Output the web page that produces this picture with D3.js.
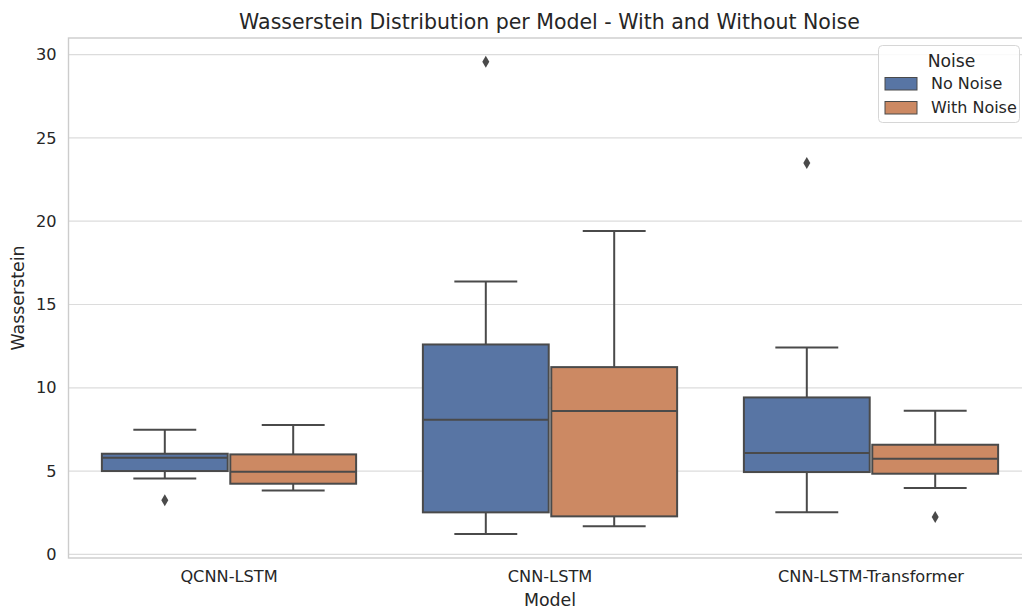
<!DOCTYPE html>
<html>
<head>
<meta charset="utf-8">
<script src="https://cdn.jsdelivr.net/npm/d3@7"></script>
<style>
  html, body { margin: 0; padding: 0; background: #fff; }
  svg text { font-family: 'DejaVu Sans', 'Verdana', sans-serif; }
</style>
</head>
<body>
<svg id="chart" width="1022" height="612"></svg>
<script>
// Models on the x axis and the two noise conditions
const models = ["QCNN-LSTM", "CNN-LSTM", "CNN-LSTM-Transformer"];
const noiseLevels = ["No Noise", "With Noise"];
const noiseColors = ["#5875A4", "#CC8963"];

// Box summaries per model (order follows `models`)
const noNoiseWhiskerLow  = [4.55, 1.22, 2.52];
const noNoiseQ1          = [5.00, 2.52, 4.94];
const noNoiseMedian      = [5.80, 8.08, 6.08];
const noNoiseQ3          = [6.04, 12.60, 9.42];
const noNoiseWhiskerHigh = [7.48, 16.38, 12.42];
const noNoiseOutliers    = [[3.24], [29.58], [23.50]];

const withNoiseWhiskerLow  = [3.84, 1.68, 3.98];
const withNoiseQ1          = [4.24, 2.28, 4.84];
const withNoiseMedian      = [4.96, 8.60, 5.74];
const withNoiseQ3          = [6.00, 11.24, 6.58];
const withNoiseWhiskerHigh = [7.76, 19.42, 8.62];
const withNoiseOutliers    = [[], [], [2.24]];

const yTicks = [0, 5, 10, 15, 20, 25, 30];
const yDomain = [-0.22, 31.0];

const series = [
  { lo: noNoiseWhiskerLow, q1: noNoiseQ1, med: noNoiseMedian, q3: noNoiseQ3, hi: noNoiseWhiskerHigh, out: noNoiseOutliers },
  { lo: withNoiseWhiskerLow, q1: withNoiseQ1, med: withNoiseMedian, q3: withNoiseQ3, hi: withNoiseWhiskerHigh, out: withNoiseOutliers }
];

const boxes = [];
series.forEach((s, si) => {
  models.forEach((m, mi) => {
    boxes.push({ model: m, noise: noiseLevels[si], color: noiseColors[si],
      lo: s.lo[mi], q1: s.q1[mi], med: s.med[mi], q3: s.q3[mi], hi: s.hi[mi], out: s.out[mi] });
  });
});

const FONT = "'DejaVu Sans', Verdana, sans-serif";
const svg = d3.select("#chart");
const plot = { left: 68.5, top: 38, bottom: 558, right: 1031.5 };
const lineGray = "#4a4a4a";
const gridGray = "#dcdcdc";
const textColor = "#262626";

const x = d3.scaleBand().domain(models).range([plot.left, plot.right]).paddingInner(0).paddingOuter(0);
const xHue = d3.scaleBand().domain(noiseLevels).range([0, x.bandwidth() * 0.8]);
const y = d3.scaleLinear().domain(yDomain).range([plot.bottom, plot.top]);

// grid lines
svg.append("g").selectAll("line").data(yTicks).join("line")
  .attr("x1", plot.left).attr("x2", plot.right)
  .attr("y1", d => y(d)).attr("y2", d => y(d))
  .attr("stroke", gridGray).attr("stroke-width", 1.2);

// frame
svg.append("rect").attr("x", plot.left).attr("y", plot.top)
  .attr("width", plot.right - plot.left).attr("height", plot.bottom - plot.top)
  .attr("fill", "none").attr("stroke", "#cccccc").attr("stroke-width", 1.4);

// y axis
const yAxis = svg.append("g").attr("transform", `translate(${plot.left},0)`)
  .call(d3.axisLeft(y).tickValues(yTicks).tickSize(0).tickPadding(12).tickFormat(d3.format("d")));
yAxis.attr("font-family", FONT);
yAxis.select(".domain").remove();
yAxis.selectAll("text").attr("fill", textColor).attr("font-family", FONT).style("font-size", "16.2px");

// x axis
const xAxis = svg.append("g").attr("transform", `translate(0,${plot.bottom})`)
  .call(d3.axisBottom(x).tickSize(0).tickPadding(12));
xAxis.attr("font-family", FONT);
xAxis.select(".domain").remove();
xAxis.selectAll("text").attr("fill", textColor).attr("font-family", FONT).style("font-size", "16.2px");

// boxes
const hueOffset = x.bandwidth() * 0.1;
const g = svg.append("g").selectAll("g").data(boxes).join("g")
  .attr("transform", d => `translate(${x(d.model) + hueOffset + xHue(d.noise)},0)`);

const bw = xHue.bandwidth();
const boxW = bw * 0.98;
const bx = (bw - boxW) / 2;
const cx = bw / 2;
const capW = boxW / 2;

g.append("line").attr("x1", cx).attr("x2", cx)
  .attr("y1", d => y(d.q3)).attr("y2", d => y(d.hi))
  .attr("stroke", lineGray).attr("stroke-width", 2);
g.append("line").attr("x1", cx).attr("x2", cx)
  .attr("y1", d => y(d.q1)).attr("y2", d => y(d.lo))
  .attr("stroke", lineGray).attr("stroke-width", 2);
g.append("line").attr("x1", cx - capW / 2).attr("x2", cx + capW / 2)
  .attr("y1", d => y(d.hi)).attr("y2", d => y(d.hi))
  .attr("stroke", lineGray).attr("stroke-width", 2);
g.append("line").attr("x1", cx - capW / 2).attr("x2", cx + capW / 2)
  .attr("y1", d => y(d.lo)).attr("y2", d => y(d.lo))
  .attr("stroke", lineGray).attr("stroke-width", 2);
g.append("rect").attr("x", bx).attr("width", boxW)
  .attr("y", d => y(d.q3)).attr("height", d => y(d.q1) - y(d.q3))
  .attr("fill", d => d.color).attr("stroke", lineGray).attr("stroke-width", 2);
g.append("line").attr("x1", bx).attr("x2", bx + boxW)
  .attr("y1", d => y(d.med)).attr("y2", d => y(d.med))
  .attr("stroke", lineGray).attr("stroke-width", 2);

// outliers as thin diamonds
g.selectAll("path.flier").data(d => d.out).join("path")
  .attr("class", "flier")
  .attr("d", v => `M${cx},${y(v) - 6} L${cx + 3.5},${y(v)} L${cx},${y(v) + 6} L${cx - 3.5},${y(v)} Z`)
  .attr("fill", lineGray);

// title and axis labels
svg.append("text").attr("x", 549.5).attr("y", 28.5)
  .attr("text-anchor", "middle").attr("fill", textColor).attr("font-family", FONT)
  .style("font-size", "20.5px")
  .text("Wasserstein Distribution per Model - With and Without Noise");

svg.append("text").attr("x", 550).attr("y", 606)
  .attr("text-anchor", "middle").attr("fill", textColor).attr("font-family", FONT)
  .style("font-size", "17.4px").text("Model");

svg.append("text").attr("transform", "translate(24,298) rotate(-90)")
  .attr("text-anchor", "middle").attr("fill", textColor).attr("font-family", FONT)
  .style("font-size", "17.4px").text("Wasserstein");

// legend
const lg = svg.append("g").attr("transform", "translate(878.5,45.5)");
lg.append("rect").attr("x", 0).attr("y", 0).attr("width", 141).attr("height", 77)
  .attr("rx", 4).attr("fill", "#fff").attr("fill-opacity", 0.85)
  .attr("stroke", "#d6d6d6").attr("stroke-width", 1);
lg.append("text").attr("x", 73).attr("y", 21).attr("text-anchor", "middle")
  .attr("fill", textColor).attr("font-family", FONT).style("font-size", "17.2px").text("Noise");
const items = lg.selectAll("g.item").data(noiseLevels).join("g")
  .attr("class", "item").attr("transform", (d, i) => `translate(6.5,${32 + i * 24})`);
items.append("rect").attr("width", 32).attr("height", 12.5)
  .attr("fill", (d, i) => noiseColors[i]).attr("stroke", lineGray).attr("stroke-width", 1);
items.append("text").attr("x", 46).attr("y", 11.5).attr("fill", textColor).attr("font-family", FONT)
  .style("font-size", "16px").text(d => d);
</script>
</body>
</html>
